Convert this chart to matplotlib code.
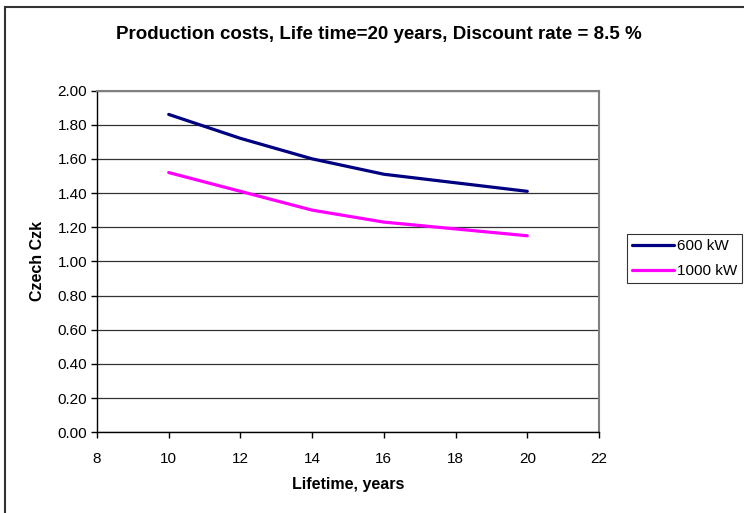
import matplotlib
matplotlib.use("Agg")
import matplotlib.pyplot as plt
from matplotlib.patches import Rectangle

plt.rcParams['font.family'] = ['Liberation Sans', 'DejaVu Sans']

# lifetime in years
lifetime = [10, 12, 14, 16, 18, 20]

# production cost, Czech Czk
cost_600kw = [1.86, 1.72, 1.60, 1.51, 1.46, 1.41]
cost_1000kw = [1.52, 1.41, 1.30, 1.23, 1.19, 1.15]

series_names = ['600 kW', '1000 kW']
series_colors = ['#000080', '#FF00FF']

W, H = 744, 513
fig = plt.figure(figsize=(W / 100, H / 100), dpi=100)
ax = fig.add_axes([97 / W, 1 - 432.3 / H, (599 - 97) / W, (432.3 - 90.5) / H])

ax.plot(lifetime, cost_600kw, color=series_colors[0], lw=2.3,
        solid_capstyle='round', label=series_names[0])
ax.plot(lifetime, cost_1000kw, color=series_colors[1], lw=2.3,
        solid_capstyle='round', label=series_names[1])

ax.set_xlim(8, 22)
ax.set_ylim(0, 2.0)
ax.set_xticks(range(8, 23, 2))
ax.set_yticks([i * 0.2 for i in range(11)])
ax.set_yticklabels(['%.2f' % (i * 0.2) for i in range(11)])
ax.tick_params(axis='both', labelsize=11, direction='out', length=4, width=1, color='black')
ax.tick_params(axis='x', pad=10)
ax.tick_params(axis='y', pad=3)

ax.grid(axis='y', color='#333333', lw=0.9)
ax.set_axisbelow(True)
for side in ['left', 'bottom']:
    ax.spines[side].set_color('black')
    ax.spines[side].set_linewidth(1.0)
for side in ['right', 'top']:
    ax.spines[side].set_color('#808080')
    ax.spines[side].set_linewidth(1.5)

ax.set_xlabel('Lifetime, years', fontsize=11.5, fontweight='bold', labelpad=8)
ax.set_ylabel('Czech Czk', fontsize=11.5, fontweight='bold', labelpad=9)

fig.text(379 / W, 1 - 35 / H, 'Production costs, Life time=20 years, Discount rate = 8.5 %',
         ha='center', va='center', fontsize=13.5, fontweight='bold')

leg = ax.legend(loc='upper left', bbox_to_anchor=(627 / W, 1 - 234 / H),
                bbox_transform=fig.transFigure, fontsize=11, frameon=True,
                fancybox=False, handlelength=2.7, handletextpad=0.2,
                borderpad=0.35, labelspacing=0.7, borderaxespad=0)
leg.get_frame().set_edgecolor('black')
leg.get_frame().set_linewidth(0.8)

# chart area border (left and top edges visible)
fig.patches.append(Rectangle((5.3 / W, -0.1), 1.2, 1 - 6.7 / H + 0.1,
                             transform=fig.transFigure, fill=False,
                             edgecolor='#333333', lw=1.5))

fig.savefig('out.png', dpi=100)
